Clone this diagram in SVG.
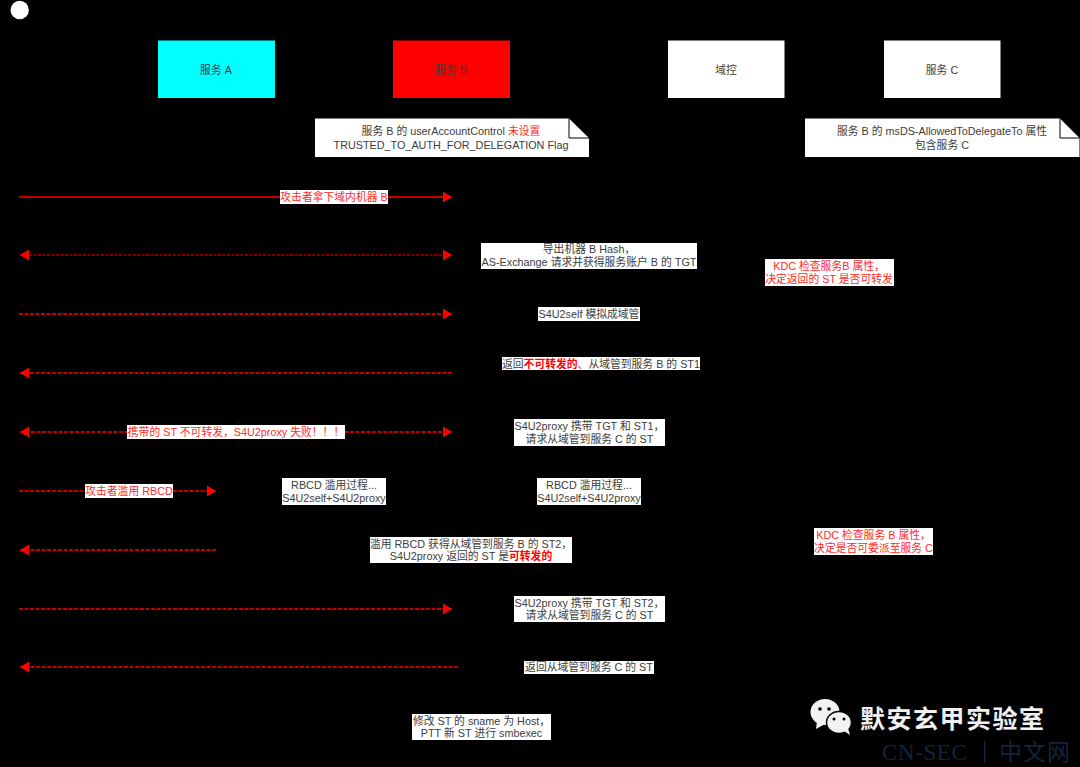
<svg xmlns="http://www.w3.org/2000/svg" width="1080" height="767" viewBox="0 0 1080 767">
<defs>
<style>
text{font-family:"Liberation Sans","Noto Sans CJK SC",sans-serif;font-size:10.8px;fill:#3c3c3c;text-anchor:middle}
.r{fill:#ff2a2a}
.b{fill:#f00;font-weight:bold}
.rr{fill:#ff2a2a}
.lab{fill:#fff}
.ln{fill:none;stroke:#f00;stroke-width:1.7}
.d{stroke-dasharray:4 1.500}
.t{stroke-width:1;stroke-dasharray:3 1.500}
.wm{font-size:25px;font-weight:bold;fill:#f0f0f0;text-anchor:start;letter-spacing:1.500px}
.cn{font-family:"Liberation Serif","Noto Sans CJK SC",serif;font-size:23px;fill:#14233c;text-anchor:start;letter-spacing:.6px}
</style>
<marker id="ae" markerUnits="userSpaceOnUse" markerWidth="10" markerHeight="12" refX="9" refY="6" orient="auto-start-reverse"><path d="M0,0.500 L9,6 L0,11.500 Z" fill="#f00"/></marker>
</defs>
<rect width="1080" height="767" fill="#000"/>
<g id="start"><circle cx="19.700" cy="10" r="9.200" fill="#fff"/></g>
<g id="service-a"><rect x="158" y="40.500" width="117" height="57.500" fill="#0ff"/><text x="216" y="74">服务 A</text></g>
<g id="service-b"><rect x="393" y="40.500" width="117" height="57.500" fill="#f00"/><text x="451" y="74">服务 B</text></g>
<g id="dc"><rect x="668" y="40.500" width="116.500" height="57.500" fill="#fff"/><text x="726" y="74">域控</text></g>
<g id="service-c"><rect x="884" y="40.500" width="116.500" height="57.500" fill="#fff"/><text x="942" y="74">服务 C</text></g>
<g id="note-b"><path d="M315,118.500 H569 L589,138 V157 H315 Z" fill="#fff"/><path d="M569,118.500 V138 H589" fill="none" stroke="#000"/><text x="451" y="135">服务 B 的 userAccountControl <tspan class="rr">未设置</tspan></text><text x="451" y="149">TRUSTED_TO_AUTH_FOR_DELEGATION Flag</text></g>
<g id="note-c"><path d="M805,118.500 H1060 L1079.500,138 V157 H805 Z" fill="#fff"/><path d="M1060,118.500 V138 H1079.500" fill="none" stroke="#000"/><text x="942" y="135">服务 B 的 msDS-AllowedToDelegateTo 属性</text><text x="942" y="149">包含服务 C</text></g>
<g id="connectors">
<path class="ln" d="M19,197 H452" marker-end="url(#ae)"/>
<path class="ln t" d="M20,255 H452" marker-start="url(#ae)" marker-end="url(#ae)"/>
<path class="ln d" d="M19,314 H452" marker-end="url(#ae)"/>
<path class="ln d" d="M452,373 H20" marker-end="url(#ae)"/>
<path class="ln d" d="M20,432 H452" marker-start="url(#ae)" marker-end="url(#ae)"/>
<path class="ln d" d="M19,491 H216" marker-end="url(#ae)"/>
<path class="ln d" d="M216,550 H20" marker-end="url(#ae)"/>
<path class="ln d" d="M19,609 H452" marker-end="url(#ae)"/>
<path class="ln d" d="M458,667 H20" marker-end="url(#ae)"/>
</g>
<g id="label-1"><rect class="lab" x="280" y="190" width="108" height="14"/><text class="r" x="334" y="201">攻击者拿下域内机器 B</text></g>
<g id="label-2"><rect class="lab" x="481" y="243" width="216" height="26"/><text x="589" y="253">导出机器 B Hash，</text><text x="589" y="266">AS-Exchange 请求并获得服务账户 B 的 TGT</text></g>
<g id="label-kdc1"><rect class="lab" x="765" y="259" width="129" height="27"/><text class="r" x="829" y="270">KDC 检查服务B 属性，</text><text class="r" x="829" y="283">决定返回的 ST 是否可转发</text></g>
<g id="label-3"><rect class="lab" x="538" y="307" width="102" height="14"/><text x="589" y="318">S4U2self 模拟成域管</text></g>
<g id="label-4"><rect class="lab" x="502" y="357" width="198" height="13"/><text x="601" y="367.500">返回<tspan class="b">不可转发的</tspan>、从域管到服务 B 的 ST1</text></g>
<g id="label-5"><rect class="lab" x="127" y="425" width="218" height="14"/><text class="r" x="236" y="436">携带的 ST 不可转发，S4U2proxy 失败！！！</text></g>
<g id="label-6"><rect class="lab" x="514" y="419" width="151" height="27"/><text x="589.500" y="429.500">S4U2proxy 携带 TGT 和 ST1，</text><text x="589.500" y="442.500">请求从域管到服务 C 的 ST</text></g>
<g id="label-7"><rect class="lab" x="85" y="484" width="88" height="14"/><text class="r" x="129" y="495">攻击者滥用 RBCD</text></g>
<g id="label-8"><rect class="lab" x="282" y="478" width="104" height="27"/><text x="334" y="488.500">RBCD 滥用过程...</text><text x="334" y="501.500">S4U2self+S4U2proxy</text></g>
<g id="label-9"><rect class="lab" x="537" y="478" width="104" height="27"/><text x="589" y="488.500">RBCD 滥用过程...</text><text x="589" y="501.500">S4U2self+S4U2proxy</text></g>
<g id="label-kdc2"><rect class="lab" x="814" y="528" width="119" height="27"/><text class="r" x="873.500" y="538.500">KDC 检查服务 B 属性，</text><text class="r" x="873.500" y="551.500">决定是否可委派至服务 C</text></g>
<g id="label-10"><rect class="lab" x="370" y="537" width="202" height="26"/><text x="471" y="547.500">滥用 RBCD 获得从域管到服务 B 的 ST2，</text><text x="471" y="560">S4U2proxy 返回的 ST 是<tspan class="b">可转发的</tspan></text></g>
<g id="label-11"><rect class="lab" x="514" y="596" width="151" height="26"/><text x="589.500" y="606.500">S4U2proxy 携带 TGT 和 ST2，</text><text x="589.500" y="619">请求从域管到服务 C 的 ST</text></g>
<g id="label-12"><rect class="lab" x="524" y="661" width="130" height="13"/><text x="589" y="671">返回从域管到服务 C 的 ST</text></g>
<g id="label-13"><rect class="lab" x="412" y="714" width="139" height="26"/><text x="481.500" y="724.500">修改 ST 的 sname 为 Host，</text><text x="481.500" y="737">PTT 新 ST 进行 smbexec</text></g>
<g id="watermark">
<ellipse cx="825" cy="712" rx="14.500" ry="13" fill="#f2f2f2"/><path d="M817,721 L816,729 L825,724 Z" fill="#f2f2f2"/>
<ellipse cx="839" cy="722.500" rx="12.500" ry="11" fill="#f2f2f2" stroke="#000" stroke-width="1.500"/><path d="M844,731 L850,735 L848,728 Z" fill="#f2f2f2"/>
<circle cx="820" cy="709" r="1.800" fill="#000"/><circle cx="829" cy="709" r="1.800" fill="#000"/><circle cx="834" cy="719" r="1.500" fill="#000"/><circle cx="844" cy="719" r="1.500" fill="#000"/>
<text class="wm" x="860" y="728">默安玄甲实验室</text>
<text class="cn" x="882" y="760">CN-SEC</text><rect x="984" y="741" width="1.500" height="22" fill="#14233c"/><text class="cn" x="999" y="760" style="letter-spacing:1px">中文网</text>
</g>
</svg>
